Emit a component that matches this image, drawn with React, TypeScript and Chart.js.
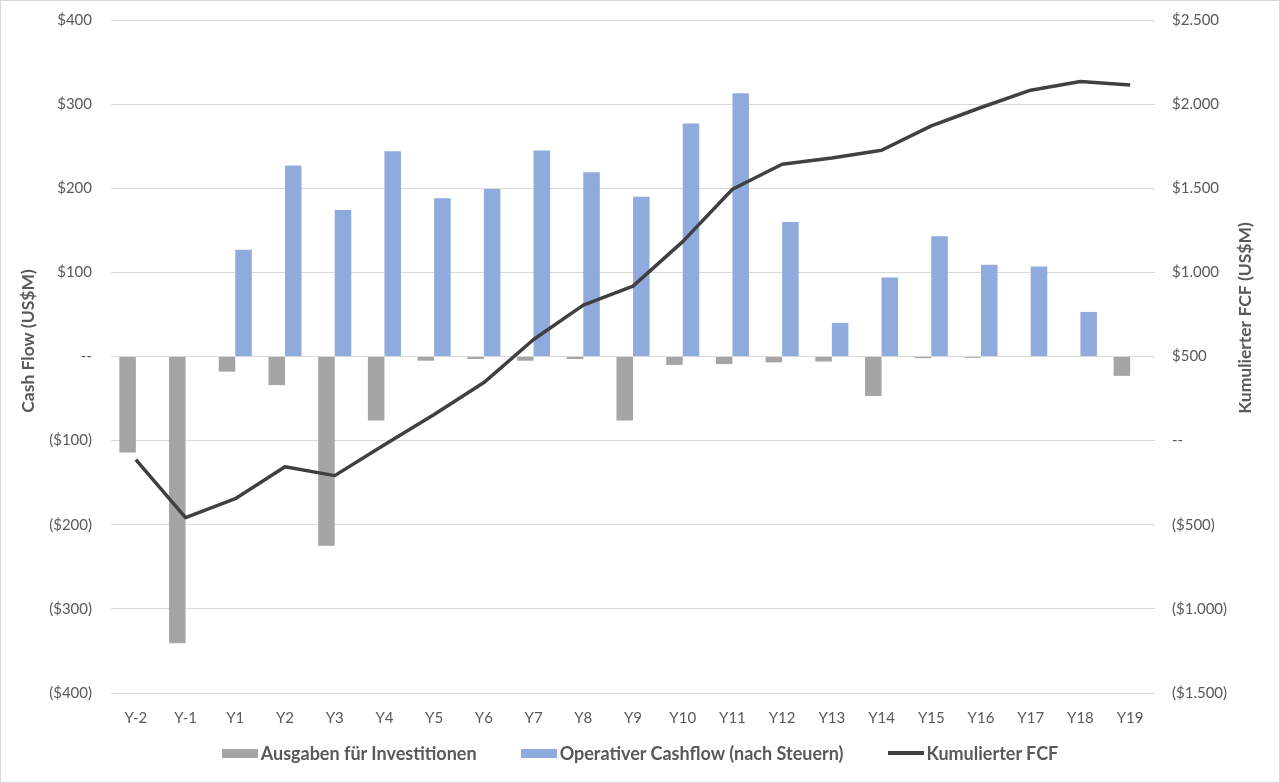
import { useEffect, useRef } from "react"
import { Chart, registerables } from "chart.js"

Chart.register(...registerables)

const COLORS = {
  capex: "#a5a5a5",
  opcf: "#8faadc",
  cum: "#404040",
  text: "#595959",
  grid: "#d9d9d9",
}

const years = ["Y-2", "Y-1", "Y1", "Y2", "Y3", "Y4", "Y5", "Y6", "Y7", "Y8", "Y9", "Y10", "Y11", "Y12", "Y13", "Y14", "Y15", "Y16", "Y17", "Y18", "Y19"]
// US$M
const capex = [-114, -341, -18, -34, -225, -76, -5, -3, -5, -3, -76, -10, -9, -7, -6, -47, -2, -1.5, 0, 0, -23]
const operatingCF = [0, 0, 127, 227, 174, 244, 188, 199, 245, 219, 190, 277, 313, 160, 40, 94, 143, 109, 107, 53, 0]
const cumulativeFCF = [-113, -458, -345, -155, -208, -24, 155, 345, 601, 805, 918, 1183, 1494, 1643, 1680, 1726, 1871, 1980, 2083, 2135, 2113]

const seriesNames = ["Ausgaben für Investitionen", "Operativer Cashflow (nach Steuern)", "Kumulierter FCF"]
const leftTitle = "Cash Flow (US$M)"
const rightTitle = "Kumulierter FCF (US$M)"

const FONT = "Lato, 'Open Sans', sans-serif"

const thousands = (n: number) => String(n).replace(/\B(?=(\d{3})+(?!\d))/g, ".")
const money = (v: number) => (v === 0 ? "--" : v < 0 ? `($${thousands(-v)})` : `$${thousands(v)}`)

// rotated axis titles, both reading bottom to top like the original
const axisTitles = {
  id: "axisTitles",
  afterDraw(chart: Chart) {
    const { ctx } = chart
    const draw = (text: string, x: number, y: number) => {
      ctx.save()
      ctx.translate(x, y)
      ctx.rotate(-Math.PI / 2)
      ctx.font = `bold 17.5px ${FONT}`
      ctx.fillStyle = COLORS.text
      ctx.textAlign = "center"
      ctx.textBaseline = "middle"
      ctx.fillText(text, 0, 0)
      ctx.restore()
    }
    draw(leftTitle, 28, 341)
    draw(rightTitle, 1245, 318)
  },
}

export default function App() {
  const chartRef = useRef<HTMLCanvasElement>(null)
  const chartInstance = useRef<Chart | null>(null)

  useEffect(() => {
    if (!chartRef.current) return
    if (chartInstance.current) chartInstance.current.destroy()

    const tickFont = { family: FONT, size: 15 }

    chartInstance.current = new Chart(chartRef.current, {
      type: "bar",
      data: {
        labels: years,
        datasets: [
          {
            type: "bar",
            label: seriesNames[0],
            data: capex,
            backgroundColor: COLORS.capex,
            yAxisID: "y",
            order: 1,
          },
          {
            type: "bar",
            label: seriesNames[1],
            data: operatingCF,
            backgroundColor: COLORS.opcf,
            yAxisID: "y",
            order: 1,
          },
          {
            type: "line",
            label: seriesNames[2],
            data: cumulativeFCF,
            borderColor: COLORS.cum,
            backgroundColor: COLORS.cum,
            borderWidth: 3.5,
            pointRadius: 0,
            tension: 0,
            borderJoinStyle: "round",
            yAxisID: "y1",
            order: 0,
          },
        ],
      },
      options: {
        responsive: false,
        animation: false,
        layout: { padding: { top: 20, bottom: 50, left: 0, right: 0 } },
        datasets: {
          bar: { categoryPercentage: 0.665, barPercentage: 1 },
        },
        plugins: {
          legend: { display: false },
          tooltip: { enabled: false },
        },
        scales: {
          x: {
            grid: { display: false },
            border: { display: false },
            ticks: { color: COLORS.text, font: tickFont, padding: 8, maxRotation: 0, autoSkip: false },
            afterFit: (scale) => {
              scale.height = 40
            },
          },
          y: {
            position: "left",
            min: -400,
            max: 400,
            // invisible tick marks push the labels away from the plot
            grid: { color: COLORS.grid, lineWidth: 1, drawTicks: true, tickLength: 16, tickColor: "rgba(0,0,0,0)" },
            border: { display: false },
            ticks: {
              stepSize: 100,
              color: COLORS.text,
              font: tickFont,
              padding: 3,
              callback: (v) => money(Number(v)),
            },
            afterFit: (scale) => {
              scale.width = 111
            },
          },
          y1: {
            position: "right",
            min: -1500,
            max: 2500,
            grid: { display: true, drawOnChartArea: false, drawTicks: true, tickLength: 14, tickColor: "rgba(0,0,0,0)" },
            border: { display: false },
            ticks: {
              stepSize: 500,
              color: COLORS.text,
              font: tickFont,
              padding: 3,
              callback: (v) => money(Number(v)),
            },
            afterFit: (scale) => {
              scale.width = 125
            },
          },
        },
      },
      plugins: [axisTitles],
    })

    return () => {
      if (chartInstance.current) {
        chartInstance.current.destroy()
        chartInstance.current = null
      }
    }
  }, [])

  const legendItems = [
    { label: seriesNames[0], color: COLORS.capex, height: 9 },
    { label: seriesNames[1], color: COLORS.opcf, height: 9 },
    { label: seriesNames[2], color: COLORS.cum, height: 4 },
  ]

  return (
    <div style={{ position: "fixed", top: 0, left: 0, width: 1280, height: 783, background: "#fff", overflow: "hidden" }}>
      <canvas ref={chartRef} width={1280} height={783} style={{ display: "block", width: 1280, height: 783 }}></canvas>

      {/* Legend */}
      <div
        style={{
          position: "absolute",
          left: 0,
          top: 741,
          width: 1280,
          height: 24,
          display: "flex",
          justifyContent: "center",
          alignItems: "center",
          gap: 44,
          fontFamily: FONT,
          fontWeight: 700,
          fontSize: 18,
          color: COLORS.text,
          whiteSpace: "nowrap",
        }}
      >
        {legendItems.map((item) => (
          <div key={item.label} style={{ display: "flex", alignItems: "center", gap: 3 }}>
            <span style={{ display: "inline-block", width: 36, height: item.height, background: item.color }}></span>
            <span>{item.label}</span>
          </div>
        ))}
      </div>

      {/* chart frame */}
      <div style={{ position: "absolute", inset: 0, border: "1px solid #d9d9d9", pointerEvents: "none" }}></div>
    </div>
  )
}
